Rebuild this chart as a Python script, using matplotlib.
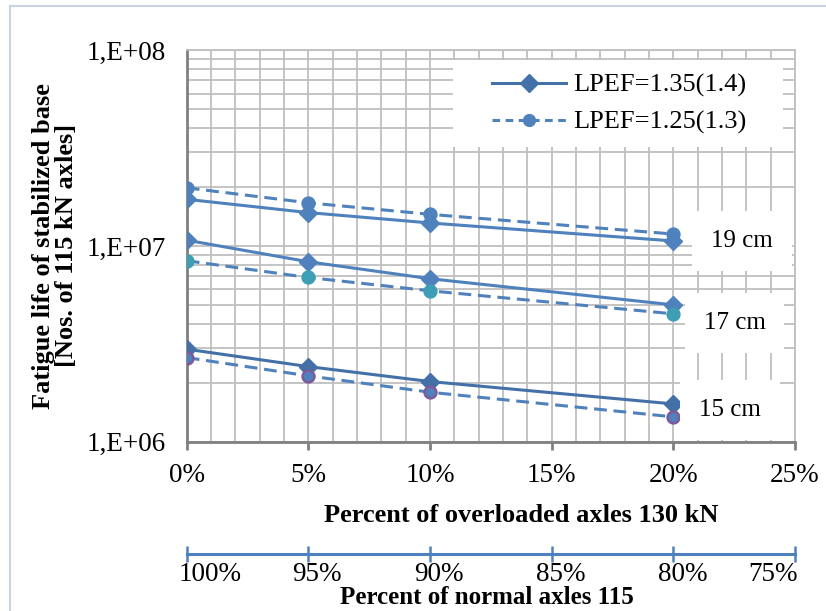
import numpy as np
import matplotlib
matplotlib.use('Agg')
import matplotlib.pyplot as plt
from matplotlib.lines import Line2D
from matplotlib.patches import Rectangle
import matplotlib.transforms as mtransforms

plt.rcParams['font.family'] = ['Liberation Serif', 'DejaVu Serif']

# data
overload = [0, 5, 10, 20]
life_135 = {
    '19 cm': [1.73e7, 1.48e7, 1.31e7, 1.06e7],
    '17 cm': [1.07e7, 8.3e6, 6.8e6, 5.0e6],
    '15 cm': [2.97e6, 2.42e6, 2.03e6, 1.56e6],
}
life_125 = {
    '19 cm': [1.98e7, 1.66e7, 1.45e7, 1.15e7],
    '17 cm': [8.4e6, 6.9e6, 5.9e6, 4.5e6],
    '15 cm': [2.69e6, 2.17e6, 1.79e6, 1.34e6],
}
x_ticks = [0, 5, 10, 15, 20, 25]
x_ticklabels = ['0%', '5%', '10%', '15%', '20%', '25%']
normal_ticklabels = ['100%', '95%', '90%', '85%', '80%', '75%']
legend_labels = ['LPEF=1.35(1.4)', 'LPEF=1.25(1.3)']

solid_col = {'19 cm': '#4F81BD', '17 cm': '#4F81BD', '15 cm': '#4470A8'}
circ_face = {'19 cm': '#4F81BD', '17 cm': '#3E9EB6', '15 cm': '#4F81BD'}
circ_edge = {'19 cm': '#4F81BD', '17 cm': '#3E9EB6', '15 cm': '#7E5A9B'}
label_pos = {'19 cm': (0.913, 0.512), '17 cm': (0.901, 0.303), '15 cm': (0.893, 0.081)}

fig = plt.figure(figsize=(8.26, 6.11), dpi=100)
ax = fig.add_axes([0.226, 0.277, 0.7365, 0.641])

for k in life_135:
    ax.plot(overload, life_135[k], '-', color=solid_col[k], lw=2.2, marker='D',
            ms=9.5, mfc=solid_col[k], mec=solid_col[k], zorder=4)
    ax.plot(overload, life_125[k], '--', color='#4F81BD', lw=2.2, dashes=(4.2, 2.2),
            marker='o', ms=8.5, mfc=circ_face[k], mec=circ_edge[k], mew=1.8, zorder=4)

ax.set_yscale('log')
ax.set_ylim(1e6, 1e8)
ax.set_xlim(0, 25)
ax.set_xticks(x_ticks)
ax.set_xticklabels(x_ticklabels, fontsize=19.5)
ax.set_xticks(np.arange(0, 26, 1), minor=True)
ax.set_yticks([1e6, 1e7, 1e8])
ax.set_yticklabels(['1,E+06', '1,E+07', '1,E+08'], fontsize=19.5)
ax.yaxis.set_minor_formatter(plt.NullFormatter())
ax.tick_params(axis='y', which='both', length=0, pad=15)
ax.tick_params(axis='x', which='major', length=6, width=2, color='#808080', pad=9)
ax.tick_params(axis='x', which='minor', length=0)
ax.grid(True, which='both', color='#BFBFBF', lw=1.3, zorder=0)
ax.set_axisbelow(True)
for s in ['left', 'bottom']:
    ax.spines[s].set_color('#808080')
    ax.spines[s].set_linewidth(2)
for s in ['right', 'top']:
    ax.spines[s].set_color('#BFBFBF')
    ax.spines[s].set_linewidth(1.3)

ax.set_xlabel('Percent of overloaded axles 130 kN', fontsize=19, fontweight='bold', labelpad=12)
ax.xaxis.label.set_x(0.55)
ax.set_ylabel('Fatigue life of stabilized base\n[Nos. of 115 kN axles]', fontsize=19,
              fontweight='bold', labelpad=6, linespacing=1.0)

for k, (xf, yf) in label_pos.items():
    ax.text(xf, yf, k, transform=ax.transAxes, fontsize=18, ha='center', va='center',
            bbox=dict(boxstyle='square,pad=0.75', fc='white', ec='none'), zorder=5)

# legend box
ax.add_patch(Rectangle((0.438, 0.752), 0.542, 0.2225, transform=ax.transAxes,
                       fc='white', ec='none', zorder=5))
handles = [Line2D([], [], color='#4472A8', lw=2.2, marker='D', ms=9.5),
           Line2D([], [], color='#4F81BD', lw=2.2, ls='--', dashes=(2.5, 1.8), marker='o', ms=8.5)]
leg = ax.legend(handles, legend_labels, loc='center', bbox_to_anchor=(0.711, 0.863),
                frameon=False, fontsize=19, handlelength=2.8, handletextpad=0.3,
                labelspacing=0.5)
leg.set_zorder(6)

# secondary axis: percent of normal axles
sec = ax.secondary_xaxis(-0.287)
sec.set_xticks(x_ticks)
sec.set_xticklabels(normal_ticklabels, fontsize=19.5)
sec.spines['bottom'].set_color('#4F81BD')
sec.spines['bottom'].set_linewidth(2.2)
sec.tick_params(axis='x', direction='inout', length=11, width=1.8, color='#4F81BD', pad=0)
labs = sec.get_xticklabels()
for i, lab in enumerate(labs):
    if i == 0:
        lab.set_ha('left')
        off = -8
    elif i == len(labs) - 1:
        lab.set_ha('right')
        off = 3
    else:
        off = 9
    lab.set_transform(lab.get_transform() + mtransforms.ScaledTranslation(off / 100, 0, fig.dpi_scale_trans))
fig.text(0.589, 1 - 597 / 611, 'Percent of normal axles 115', fontsize=18, fontweight='bold',
         ha='center', va='center')

# outer frame
fig.add_artist(Line2D([10 / 826, 10 / 826], [0, 1 - 6 / 611], transform=fig.transFigure, color='#C9D3E2', lw=1.5))
fig.add_artist(Line2D([10 / 826, 1], [1 - 6 / 611, 1 - 6 / 611], transform=fig.transFigure, color='#C9D3E2', lw=1.5))

fig.savefig('out.png', dpi=100)
